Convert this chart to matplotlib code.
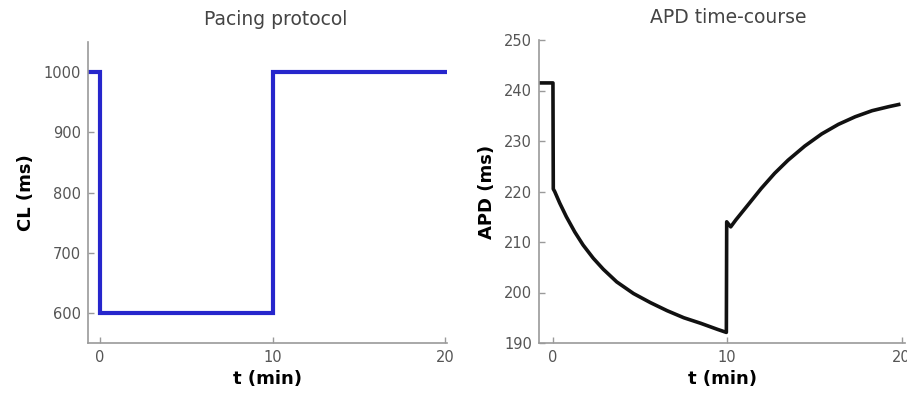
import matplotlib
matplotlib.use("Agg")
import matplotlib.pyplot as plt

# Pacing protocol: cycle length (ms) over time (min)
cl_t = [-0.7, 0.0, 0.0, 10.0, 10.0, 20.0]
cl_ms = [1000, 1000, 600, 600, 1000, 1000]

# Action potential duration response (ms)
apd_t = [-0.8, 0.0, 0.02, 0.1, 0.39, 0.77, 1.25, 1.73, 2.31, 2.89, 3.66,
         4.62, 5.59, 6.55, 7.51, 8.48, 9.44, 9.95, 9.97, 10.2, 10.5, 11.18,
         11.95, 12.72, 13.49, 14.45, 15.42, 16.38, 17.34, 18.31, 19.27, 19.94]
apd_ms = [241.5, 241.5, 220.5, 220.0, 217.7, 215.0, 212.0, 209.4, 206.8,
          204.6, 202.1, 199.8, 198.0, 196.4, 195.0, 193.9, 192.7, 192.1,
          214.0, 213.0, 214.4, 217.3, 220.6, 223.6, 226.2, 229.0, 231.4,
          233.3, 234.8, 236.0, 236.8, 237.3]

x_ticks = [0, 10, 20]
cl_ticks = [600, 700, 800, 900, 1000]
apd_ticks = [190, 200, 210, 220, 230, 240, 250]

spine_c = "#9a9a9a"
tick_c = "#555555"
title_c = "#444444"

fig = plt.figure(figsize=(9.07, 3.97), dpi=100)
ax1 = fig.add_axes([88 / 907, 1 - 343 / 397, (447 - 88) / 907, (343 - 42) / 397])
ax2 = fig.add_axes([539 / 907, 1 - 343 / 397, (905 - 539) / 907, (343 - 40) / 397])


def style(ax):
    for s in ("top", "right"):
        ax.spines[s].set_visible(False)
    for s in ("left", "bottom"):
        ax.spines[s].set_color(spine_c)
        ax.spines[s].set_linewidth(1.2)
    ax.tick_params(direction="in", length=4, width=1, colors=spine_c,
                   labelcolor=tick_c, labelsize=10.5, pad=5)
    ax.set_xticks(x_ticks)
    ax.set_xlabel("t (min)", fontsize=13, fontweight="bold", labelpad=4)


ax1.plot(cl_t, cl_ms, color="#2626cc", lw=3.0, solid_joinstyle="miter")
ax1.set_xlim(-0.7, 20.1)
ax1.set_ylim(550, 1050)
ax1.set_yticks(cl_ticks)
style(ax1)
ax1.set_ylabel("CL (ms)", fontsize=13, fontweight="bold", labelpad=6)
ax1.set_title("Pacing protocol", fontsize=13.5, color=title_c, pad=12, x=0.524)

ax2.plot(apd_t, apd_ms, color="#111111", lw=2.6, solid_joinstyle="round",
         solid_capstyle="butt")
ax2.set_xlim(-0.8, 20.2)
ax2.set_ylim(190, 250)
ax2.set_yticks(apd_ticks)
style(ax2)
ax2.set_ylabel("APD (ms)", fontsize=13, fontweight="bold", labelpad=6)
ax2.set_title("APD time-course", fontsize=13.5, color=title_c, pad=12, x=0.516)

fig.savefig("out.png", dpi=100, facecolor="white")
